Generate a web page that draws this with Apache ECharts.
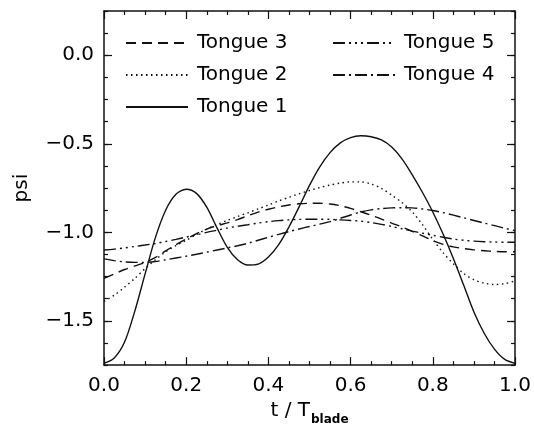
<!DOCTYPE html>
<html>
<head>
<meta charset="utf-8">
<script src="https://cdn.jsdelivr.net/npm/echarts@6/dist/echarts.min.js"></script>
<style>
html,body{margin:0;padding:0;background:#fff;}
#chart{width:534px;height:431px;}
</style>
</head>
<body>
<div id="chart"></div>
<script>
// time grid t / T_blade
const tValues = [0, 0.025, 0.05, 0.075, 0.1, 0.125, 0.15, 0.175, 0.2, 0.225,
  0.25, 0.275, 0.3, 0.325, 0.35, 0.375, 0.4, 0.425, 0.45, 0.475,
  0.5, 0.525, 0.55, 0.575, 0.6, 0.625, 0.65, 0.675, 0.7, 0.725,
  0.75, 0.775, 0.8, 0.825, 0.85, 0.875, 0.9, 0.925, 0.95, 0.975, 1.0];

const tongue1 = [-1.74, -1.71, -1.62, -1.445, -1.235, -1.03, -0.875, -0.785, -0.757, -0.78,
  -0.858, -0.975, -1.085, -1.155, -1.185, -1.18, -1.14, -1.07, -0.97, -0.855,
  -0.735, -0.63, -0.55, -0.495, -0.465, -0.455, -0.46, -0.478, -0.518, -0.585,
  -0.675, -0.775, -0.885, -1.01, -1.148, -1.298, -1.45, -1.57, -1.66, -1.718, -1.74];

const tongue2 = [-1.39, -1.355, -1.31, -1.26, -1.205, -1.155, -1.11, -1.075, -1.045, -1.012,
  -0.982, -0.956, -0.933, -0.911, -0.89, -0.868, -0.846, -0.823, -0.802, -0.782,
  -0.764, -0.747, -0.733, -0.722, -0.715, -0.715, -0.727, -0.752, -0.79, -0.832,
  -0.885, -0.957, -1.04, -1.115, -1.178, -1.232, -1.268, -1.287, -1.295, -1.29, -1.275];

const tongue3 = [-1.26, -1.235, -1.21, -1.19, -1.17, -1.142, -1.105, -1.07, -1.038, -1.008,
  -0.982, -0.962, -0.947, -0.928, -0.906, -0.886, -0.87, -0.856, -0.846, -0.839,
  -0.836, -0.836, -0.84, -0.85, -0.865, -0.884, -0.904, -0.925, -0.948, -0.97,
  -0.995, -1.02, -1.047, -1.068, -1.082, -1.092, -1.099, -1.104, -1.108, -1.11, -1.11];

const tongue4 = [-1.15, -1.16, -1.167, -1.17, -1.17, -1.165, -1.155, -1.145, -1.135, -1.124,
  -1.112, -1.1, -1.088, -1.076, -1.062, -1.045, -1.028, -1.012, -0.996, -0.981,
  -0.967, -0.954, -0.94, -0.921, -0.902, -0.885, -0.873, -0.866, -0.862, -0.861,
  -0.862, -0.868, -0.877, -0.889, -0.903, -0.918, -0.933, -0.948, -0.962, -0.977, -0.99];

const tongue5 = [-1.10, -1.095, -1.088, -1.08, -1.072, -1.063, -1.052, -1.04, -1.027, -1.014,
  -1.0, -0.988, -0.976, -0.966, -0.957, -0.948, -0.94, -0.934, -0.93, -0.927,
  -0.926, -0.926, -0.927, -0.93, -0.933, -0.937, -0.945, -0.955, -0.967, -0.98,
  -0.993, -1.005, -1.017, -1.028, -1.038, -1.045, -1.05, -1.053, -1.055, -1.056, -1.056];

const seriesNames = ['Tongue 1', 'Tongue 2', 'Tongue 3', 'Tongue 4', 'Tongue 5'];
const seriesValues = [tongue1, tongue2, tongue3, tongue4, tongue5];
const yMajorTicks = [-1.5, -1.0, -0.5, 0.0];

const FONT = 'DejaVu Sans';
const INK = '#111';
const dashTypes = ['solid', [1.5, 3.5], [10, 6], [12, 4, 2, 4], [12, 4, 2, 4, 2, 4, 2, 4]];

const chart = echarts.init(document.getElementById('chart'), null, {renderer: 'canvas'});

const yFmt = function (v) {
  const r = Math.round(v * 2);
  if (Math.abs(v * 2 - r) > 1e-6) return '';
  const s = Math.abs(v).toFixed(1);
  return (v < -1e-9 ? '\u2212' : '') + s;
};
const xFmt = function (v) { return v.toFixed(1); };

const axisLineStyle = {show: true, onZero: false, lineStyle: {color: INK, width: 1.5}};

const legendBase = {
  orient: 'vertical', top: 33, padding: 0,
  itemWidth: 62, itemHeight: 20, itemGap: 12,
  itemStyle: {color: 'transparent', borderWidth: 0, opacity: 0},
  textStyle: {fontFamily: FONT, fontSize: 20, color: '#000', padding: [0, 0, 0, 4]},
  selectedMode: false
};

const option = {
  animation: false,
  backgroundColor: '#fff',
  textStyle: {fontFamily: FONT, color: '#000'},
  grid: {left: 104, right: 19, top: 11, bottom: 61, containLabel: false},
  legend: [
    Object.assign({}, legendBase, {data: ['Tongue 3', 'Tongue 2', 'Tongue 1'], left: 125}),
    Object.assign({}, legendBase, {data: ['Tongue 5', 'Tongue 4'], left: 332})
  ],
  xAxis: [
    {
      type: 'value', position: 'bottom', min: 0, max: 1, interval: 0.2,
      axisLine: axisLineStyle,
      axisTick: {show: true, inside: true, length: 8, lineStyle: {color: INK, width: 1.2}},
      minorTick: {show: true, splitNumber: 4, length: 4, lineStyle: {color: INK, width: 1.2}},
      splitLine: {show: false},
      axisLabel: {show: true, formatter: xFmt, fontFamily: FONT, fontSize: 20, color: '#000', margin: 11},
      name: '{m|t / T}{s|blade}',
      nameLocation: 'middle', nameGap: 30,
      nameTextStyle: {
        fontFamily: FONT, color: '#000',
        rich: {
          m: {fontFamily: FONT, fontSize: 20, color: '#000', lineHeight: 24, verticalAlign: 'top'},
          s: {fontFamily: FONT, fontSize: 12, fontWeight: 'bold', color: '#000', lineHeight: 12, padding: [13, 0, 0, 1], verticalAlign: 'top'}
        }
      }
    },
    {
      type: 'value', position: 'top', min: 0, max: 1, interval: 0.2,
      axisLine: axisLineStyle,
      axisTick: {show: true, inside: true, length: 8, lineStyle: {color: INK, width: 1.2}},
      minorTick: {show: true, splitNumber: 4, length: 4, lineStyle: {color: INK, width: 1.2}},
      splitLine: {show: false},
      axisLabel: {show: false}
    }
  ],
  yAxis: [
    {
      type: 'value', position: 'left', min: -1.75, max: 0.25, interval: 0.125,
      axisLine: axisLineStyle,
      axisTick: {show: true, inside: true, length: 4, lineStyle: {color: INK, width: 1.2}},
      splitLine: {show: false},
      axisLabel: {show: true, formatter: yFmt, fontFamily: FONT, fontSize: 20, color: '#000', margin: 10},
      name: 'psi', nameLocation: 'middle', nameGap: 72, nameRotate: 90,
      nameTextStyle: {fontFamily: FONT, fontSize: 20, color: '#000'}
    },
    {
      type: 'value', position: 'left', min: -1.75, max: 0.25,
      axisLine: {show: false, onZero: false},
      axisTick: {show: true, inside: true, length: 8, customValues: yMajorTicks, lineStyle: {color: INK, width: 1.2}},
      splitLine: {show: false},
      axisLabel: {show: false}
    },
    {
      type: 'value', position: 'right', min: -1.75, max: 0.25, interval: 0.125,
      axisLine: axisLineStyle,
      axisTick: {show: true, inside: true, length: 4, lineStyle: {color: INK, width: 1.2}},
      splitLine: {show: false},
      axisLabel: {show: false}
    },
    {
      type: 'value', position: 'right', min: -1.75, max: 0.25,
      axisLine: {show: false, onZero: false},
      axisTick: {show: true, inside: true, length: 8, customValues: yMajorTicks, lineStyle: {color: INK, width: 1.2}},
      splitLine: {show: false},
      axisLabel: {show: false}
    }
  ],
  series: seriesNames.map(function (name, k) {
    return {
      name: name,
      type: 'line',
      xAxisIndex: 0, yAxisIndex: 0,
      symbol: 'none',
      smooth: 0.3,
      data: tValues.map(function (t, i) { return [t, seriesValues[k][i]]; }),
      lineStyle: {color: INK, width: 1.4, type: dashTypes[k], cap: 'butt'},
      itemStyle: {color: INK},
      clip: true
    };
  })
};

chart.setOption(option);
</script>
</body>
</html>
